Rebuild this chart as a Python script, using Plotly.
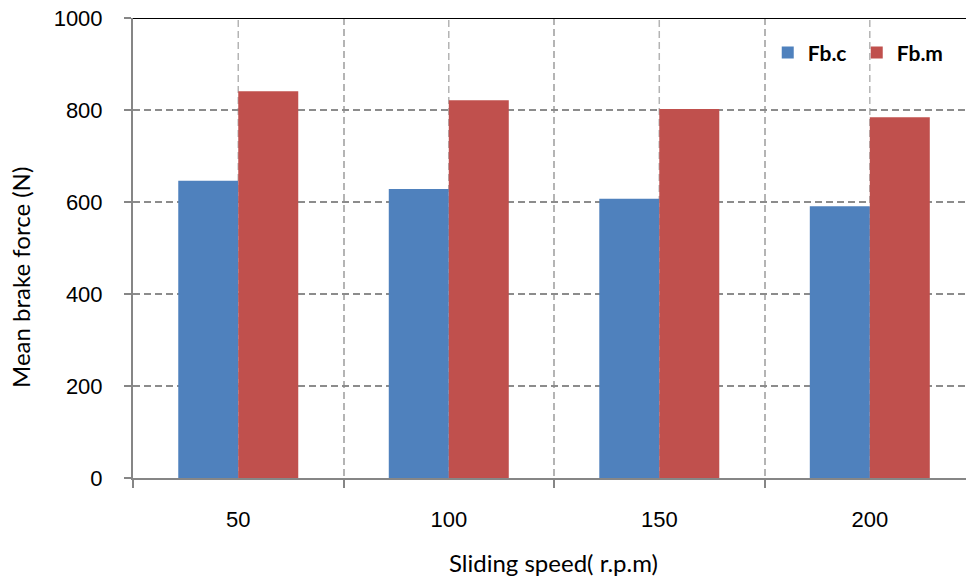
import plotly.graph_objects as go

# Mean brake force per sliding speed
speeds = ["50", "100", "150", "200"]
fb_c = [646, 628, 607, 591]
fb_m = [841, 821, 802, 784]
y_ticks = [0, 200, 400, 600, 800, 1000]

BLUE = "#4F81BD"
RED = "#C0504D"
TICK_FONT = dict(family="Liberation Sans, Arial", size=22, color="#000000")
TITLE_FONT = dict(family="Lato", size=24, color="#000000")

fig = go.Figure()
fig.add_bar(x=speeds, y=fb_c, name="Fb.c", marker=dict(color=BLUE, line=dict(width=0)))
fig.add_bar(x=speeds, y=fb_m, name="Fb.m", marker=dict(color=RED, line=dict(width=0)))

# dashed vertical gridlines through each category centre (by category index)
shapes = [
    dict(type="line", xref="x", yref="paper", x0=i, x1=i, y0=0, y1=1,
         line=dict(color="#b4b4b4", width=1.5, dash="7px,4px"), layer="below")
    for i, _ in enumerate(speeds)
]
# solid black line along the top of the plot area
shapes.append(dict(type="line", xref="paper", yref="y", x0=0, x1=1,
                   y0=y_ticks[-1], y1=y_ticks[-1],
                   line=dict(color="#000000", width=2), layer="above"))

fig.update_layout(
    width=966, height=578,
    margin=dict(l=133, r=0, t=18, b=100),
    paper_bgcolor="white", plot_bgcolor="white",
    barmode="group", bargap=0.43, bargroupgap=0,
    showlegend=True,
    legend=dict(orientation="h", x=0.762, xanchor="left", y=0.924, yanchor="middle",
                bgcolor="rgba(0,0,0,0)", entrywidth=44,
                font=dict(family="Lato", size=21, color="#000000", weight="bold")),
    shapes=shapes,
    annotations=[
        dict(text="Mean brake force (N)", xref="paper", yref="paper",
             x=(20 - 133) / 833, y=(478 - 278) / 460, xanchor="center", yanchor="middle",
             textangle=-90, showarrow=False, font=TITLE_FONT),
        dict(text="Sliding speed( r.p.m)", xref="paper", yref="paper",
             x=(553 - 133) / 833, y=(478 - 562) / 460, xanchor="center", yanchor="middle",
             showarrow=False, font=TITLE_FONT),
    ],
)

fig.update_xaxes(
    type="category", range=[-0.5, 3.457],
    tickson="boundaries", ticks="outside", ticklen=8, tickwidth=1.5, tickcolor="#868686",
    showline=True, linecolor="#868686", linewidth=2,
    showgrid=True, gridcolor="#b4b4b4", gridwidth=1.5, griddash="7px,4px",
    tickfont=TICK_FONT, ticklabelstandoff=21,
)
fig.update_yaxes(
    range=[0, 1000], tickvals=y_ticks,
    ticks="outside", ticklen=7, tickwidth=1.5, tickcolor="#868686",
    showline=True, linecolor="#868686", linewidth=2,
    showgrid=True, gridcolor="#8c8c8c", gridwidth=1.5, griddash="7px,4px",
    zeroline=False, tickfont=TICK_FONT, ticklabelstandoff=17,
)

fig.write_html("out.html")
